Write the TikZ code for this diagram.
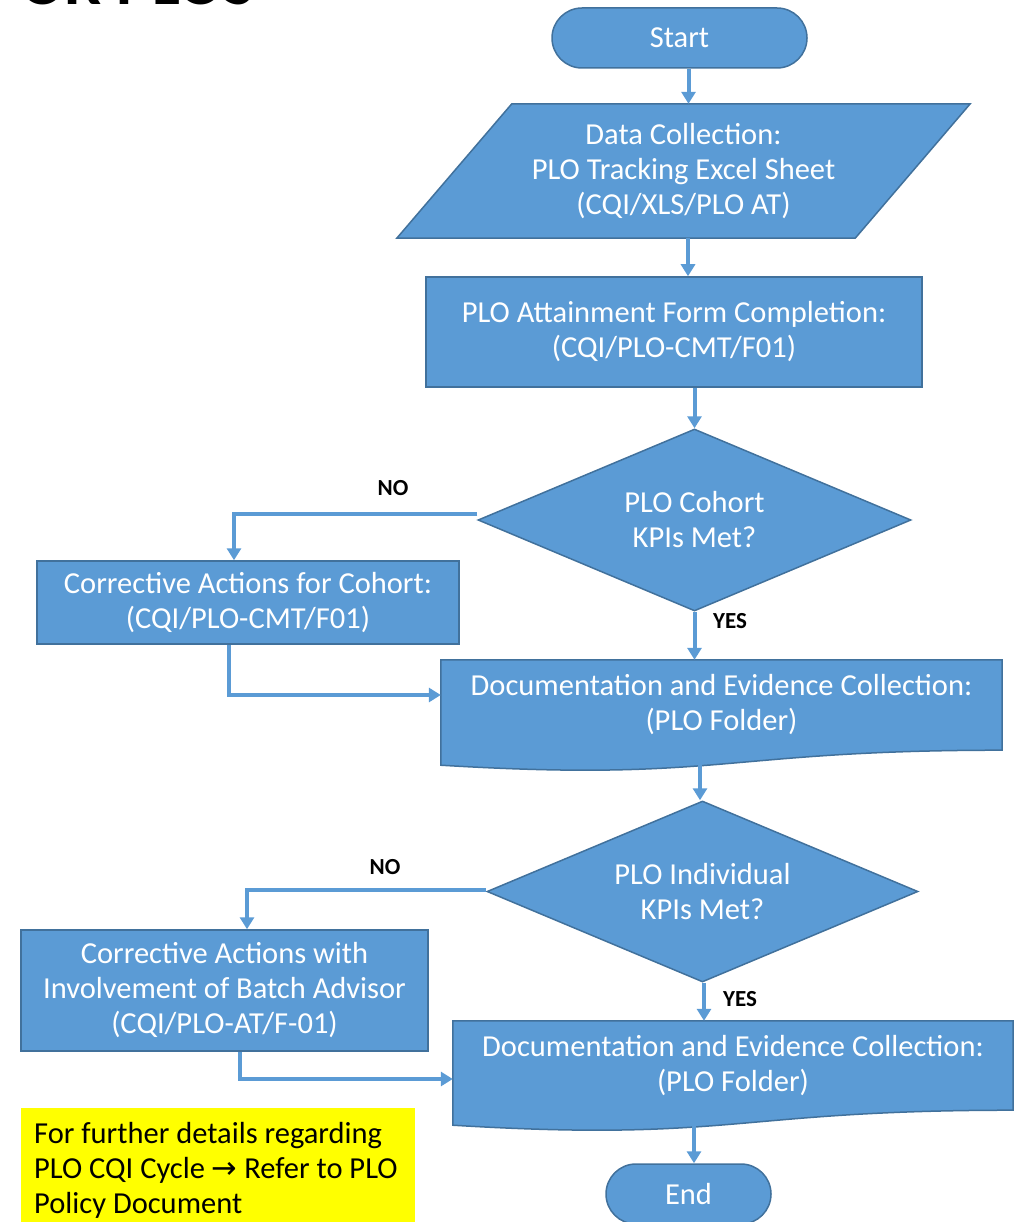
\documentclass[tikz,border=0pt]{standalone}
\usepackage{fontspec}
\setmainfont{Carlito}
\newfontfamily\arrowfont{DejaVu Sans}
\usetikzlibrary{shapes.geometric,arrows.meta,calc,backgrounds}
\definecolor{fillblue}{HTML}{5B9BD5}
\definecolor{edgeblue}{HTML}{41719C}
\definecolor{noteyellow}{HTML}{FFFF00}
\begin{document}
\begin{tikzpicture}[x=1pt,y=-1pt,
  mainfont/.style={font=\fontsize{30.5}{35}\selectfont},
  box/.style={draw=edgeblue, fill=fillblue, line width=1.5pt, text=white, mainfont, align=center, inner sep=0pt},
  plain/.style={text=white, mainfont, align=center, inner sep=0pt},
  shapeline/.style={draw=edgeblue, fill=fillblue, line width=1.5pt},
  conn/.style={draw=fillblue, line width=4pt, -{Triangle[width=14pt,length=12pt]}},
  lbl/.style={font=\bfseries\fontsize{23}{26}\selectfont, text=black, inner sep=0pt}]
\useasboundingbox (0,0) rectangle (1018,1222);

% cut-off title at the top
\node[font=\bfseries\fontsize{66}{66}\selectfont, anchor=base west, inner sep=0pt] (title) at (20,5) {OR PLOS};

% nodes
\node[box, rounded corners=30pt, minimum width=255pt, minimum height=60pt] (start) at (679.5,38) {Start};
\node[plain, minimum width=458pt, minimum height=134pt] (data) at (683.5,171) {Data Collection:\\PLO Tracking Excel Sheet\\(CQI/XLS/PLO AT)};
\node[box, minimum width=496pt, minimum height=110pt] (att) at (674,332) {PLO Attainment Form Completion:\\(CQI/PLO-CMT/F01)};
\node[box, diamond, aspect=2.38, minimum width=433pt, minimum height=182pt] (d1) at (694.5,520) {PLO Cohort\\KPIs Met?};
\node[box, minimum width=422pt, minimum height=83pt] (c1) at (248,602.5) {Corrective Actions for Cohort:\\(CQI/PLO-CMT/F01)};
\node[plain, minimum width=561pt, minimum height=90pt] (doc1) at (721.5,705) {Documentation and Evidence Collection:\\(PLO Folder)};
\node[box, diamond, aspect=2.38, minimum width=431pt, minimum height=181pt] (d2) at (702.5,891.5) {PLO Individual\\KPIs Met?};
\node[box, minimum width=407pt, minimum height=121pt] (c2) at (224.5,990.5) {Corrective Actions with\\Involvement of Batch Advisor\\(CQI/PLO-AT/F-01)};
\node[plain, minimum width=560pt, minimum height=89pt] (doc2) at (733,1065.5) {Documentation and Evidence Collection:\\(PLO Folder)};
\node[box, rounded corners=30pt, minimum width=165pt, minimum height=60pt] (end) at (688.5,1194) {End};

% note
\node[fill=noteyellow, anchor=north west, minimum width=394pt, minimum height=120pt, inner sep=0pt] (notebg) at (21,1108) {};
\node[anchor=north west, align=left, mainfont, text=black, inner sep=0pt] (note) at (34,1122) {For further details regarding\\PLO CQI Cycle {\arrowfont →} Refer to PLO\\Policy Document};

% background shapes
\begin{scope}[on background layer]
  \path[shapeline] ([xshift=57.5pt]data.north west) -- ([xshift=57.5pt]data.north east)
     -- ([xshift=-57.5pt]data.south east) -- ([xshift=-57.5pt]data.south west) -- cycle;
  \path[shapeline] (doc1.north west) -- (doc1.north east) -- (doc1.south east)
     .. controls (doc1.south) and ($(doc1.south)+(0,32)$) .. ($(doc1.south west)+(0,15)$) -- cycle;
  \path[shapeline] (doc2.north west) -- (doc2.north east) -- (doc2.south east)
     .. controls (doc2.south) and ($(doc2.south)+(0,32)$) .. ($(doc2.south west)+(0,15)$) -- cycle;
\end{scope}

% connectors
\draw[conn] ([xshift=9pt]start.south) -- ([xshift=9pt]start.south |- data.north);
\draw[conn] ([xshift=4.5pt]data.south) -- ([xshift=4.5pt]data.south |- att.north);
\draw[conn] (att.south -| d1.north) -- (d1.north);
\draw[conn] ([yshift=6pt]d1.west) -| ([xshift=-14pt]c1.north);
\draw[conn] (d1.south) -- (d1.south |- doc1.north);
\draw[conn] ([xshift=-19pt]c1.south) |- ([yshift=10pt]doc1.west);
\draw[conn] ([xshift=-21.5pt,yshift=-14pt]doc1.south) -- ([xshift=-21.5pt]doc1.south |- d2.north);
\draw[conn] ([yshift=1.5pt]d2.west) -| ([xshift=22.5pt]c2.north);
\draw[conn] ([xshift=1.5pt]d2.south) -- ([xshift=1.5pt]d2.south |- doc2.north);
\draw[conn] ([xshift=15.5pt]c2.south) |- ([yshift=-13.5pt]doc2.west);
\draw[conn] ([xshift=-39pt,yshift=-16pt]doc2.south) -- ([xshift=-39pt]doc2.south |- end.north);

% labels
\node[lbl] (no1) at (393,488) {NO};
\node[lbl] (yes1) at (730,621) {YES};
\node[lbl] (no2) at (385,867) {NO};
\node[lbl] (yes2) at (740,999) {YES};
\end{tikzpicture}
\end{document}
